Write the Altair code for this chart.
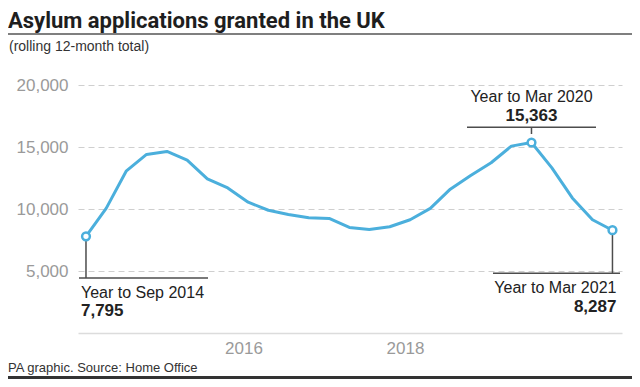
import altair as alt
import pandas as pd

# ---- data ----
dates = ["2014-09-01", "2014-12-01", "2015-03-01", "2015-06-01", "2015-09-01", "2015-12-01",
         "2016-03-01", "2016-06-01", "2016-09-01", "2016-12-01", "2017-03-01", "2017-06-01",
         "2017-09-01", "2017-12-01", "2018-03-01", "2018-06-01", "2018-09-01", "2018-12-01",
         "2019-03-01", "2019-06-01", "2019-09-01", "2019-12-01", "2020-03-01", "2020-06-01",
         "2020-09-01", "2020-12-01", "2021-03-01"]
values = [7795, 10050, 13050, 14400, 14640, 13940, 12430, 11700, 10550, 9900, 9560, 9300,
          9240, 8510, 8350, 8570, 9130, 10050, 11600, 12700, 13730, 15070, 15363, 13320,
          10890, 9130, 8287]

ann_idx = [0, 22, 26]
ann_labels = ["Year to Sep 2014", "Year to Mar 2020", "Year to Mar 2021"]
x_tick_labels = [(2016, 8, 11), (2018, 8, 9)]
y_ticks = [5000, 10000, 15000, 20000]

title_text = "Asylum applications granted in the UK"
subtitle_text = "(rolling 12-month total)"
footer_text = "PA graphic. Source: Home Office"

# ---- styles ----
BLUE = "#4bafdc"
DARK = "#4d4d4d"
FONT = "Liberation Sans"
TITLE_FONT = "Roboto"

df = pd.DataFrame({"date": dates, "value": values})
ann = pd.DataFrame({
    "date": [dates[i] for i in ann_idx],
    "value": [values[i] for i in ann_idx],
    "label": ann_labels,
})

xscale = alt.Scale(type="utc", domain=[alt.DateTime(year=2014, month=7, date=27, utc=True),
                                       alt.DateTime(year=2021, month=4, date=13, utc=True)])
yscale = alt.Scale(domain=[0, 20000], nice=False)

X = alt.X("date:T", scale=xscale,
          axis=alt.Axis(values=[alt.DateTime(year=y, month=m, date=d, utc=True) for y, m, d in x_tick_labels],
                        format="%Y", title=None, grid=False, ticks=False, domain=True,
                        domainColor="#dcdcdc", domainWidth=1.5, labelPadding=7, labelFlush=False))
Y = alt.Y("value:Q", scale=yscale,
          axis=alt.Axis(values=y_ticks, format=",.0f", title=None, grid=True, gridDash=[6, 4],
                        gridColor="#cfcfcf", gridWidth=1, domain=False, ticks=False, labelPadding=10))

rule_style = dict(color=DARK, strokeWidth=1.5)
lab_style = dict(font=FONT, fontSize=16, color="#222", baseline="middle")
num_style = dict(font=FONT, fontSize=17, fontWeight="bold", color="#222", baseline="middle")

layers = []

# annotation: first point
a0 = ann.iloc[[0]]
layers += [
    alt.Chart(a0).mark_rule(**rule_style).encode(X, Y, y2=alt.value(193)),
    alt.Chart(a0).mark_rule(**rule_style).encode(x=alt.value(1), x2=alt.value(130), y=alt.value(193)),
    alt.Chart(a0).mark_text(align="left", dx=-5, **lab_style).encode(X, y=alt.value(207.7), text="label:N"),
    alt.Chart(a0).mark_text(align="left", dx=-5, **num_style).encode(
        X, y=alt.value(226), text=alt.Text("value:Q", format=",")),
]

# annotation: peak
a1 = ann.iloc[[1]]
layers += [
    alt.Chart(a1).mark_rule(**rule_style).encode(X, y=alt.value(42.3), y2=alt.value(49)),
    alt.Chart(a1).mark_rule(**rule_style).encode(x=alt.value(389), x2=alt.value(518), y=alt.value(42.3)),
    alt.Chart(a1).mark_text(align="center", **lab_style).encode(X, y=alt.value(11.7), text="label:N"),
    alt.Chart(a1).mark_text(align="center", **num_style).encode(
        X, y=alt.value(30.7), text=alt.Text("value:Q", format=",")),
]

# annotation: last point
a2 = ann.iloc[[2]]
layers += [
    alt.Chart(a2).mark_rule(**rule_style).encode(X, Y, y2=alt.value(188.3)),
    alt.Chart(a2).mark_rule(**rule_style).encode(x=alt.value(415), x2=alt.value(542), y=alt.value(188.3)),
    alt.Chart(a2).mark_text(align="right", dx=4, **lab_style).encode(X, y=alt.value(203), text="label:N"),
    alt.Chart(a2).mark_text(align="right", dx=4, **num_style).encode(
        X, y=alt.value(221.7), text=alt.Text("value:Q", format=",")),
]

# main line and end markers
layers += [
    alt.Chart(df).mark_line(color=BLUE, strokeWidth=3, strokeJoin="round").encode(X, Y),
    alt.Chart(ann).mark_point(shape="circle", filled=True, fill="white", stroke=BLUE,
                              strokeWidth=2.5, size=60, opacity=1).encode(X, Y),
]

# heading, subtitle, footer, separator lines
hdr = pd.DataFrame({"t": [title_text]})
sub = pd.DataFrame({"t": [subtitle_text]})
foot = pd.DataFrame({"t": [footer_text]})
layers += [
    alt.Chart(hdr).mark_text(align="left", baseline="alphabetic", font=TITLE_FONT, fontSize=22,
                             fontWeight="bold", color="#1e1e1e").encode(
        x=alt.value(-70), y=alt.value(-57), text="t:N"),
    alt.Chart(hdr).mark_rule(color="#555555", strokeWidth=1.5).encode(
        x=alt.value(-70), x2=alt.value(554), y=alt.value(-51)),
    alt.Chart(sub).mark_text(align="left", baseline="alphabetic", font=FONT, fontSize=14,
                             color="#333333").encode(x=alt.value(-69), y=alt.value(-34), text="t:N"),
    alt.Chart(foot).mark_text(align="left", baseline="alphabetic", font=FONT, fontSize=13,
                              color="#333333").encode(x=alt.value(-70), y=alt.value(287), text="t:N"),
    alt.Chart(foot).mark_rule(color="#333333", strokeWidth=3).encode(
        x=alt.value(-70), x2=alt.value(554), y=alt.value(292.5)),
]

chart = alt.layer(*layers).properties(
    width=544, height=248,
    autosize=alt.AutoSizeParams(type="none"),
    padding={"left": 70, "top": 77, "right": 10, "bottom": 46},
).configure_view(stroke=None).configure_axis(
    labelFont=FONT, labelFontSize=17, labelColor="#9a9a9a"
)

chart.save("out.html", embed_options={"renderer": "svg", "actions": False})
